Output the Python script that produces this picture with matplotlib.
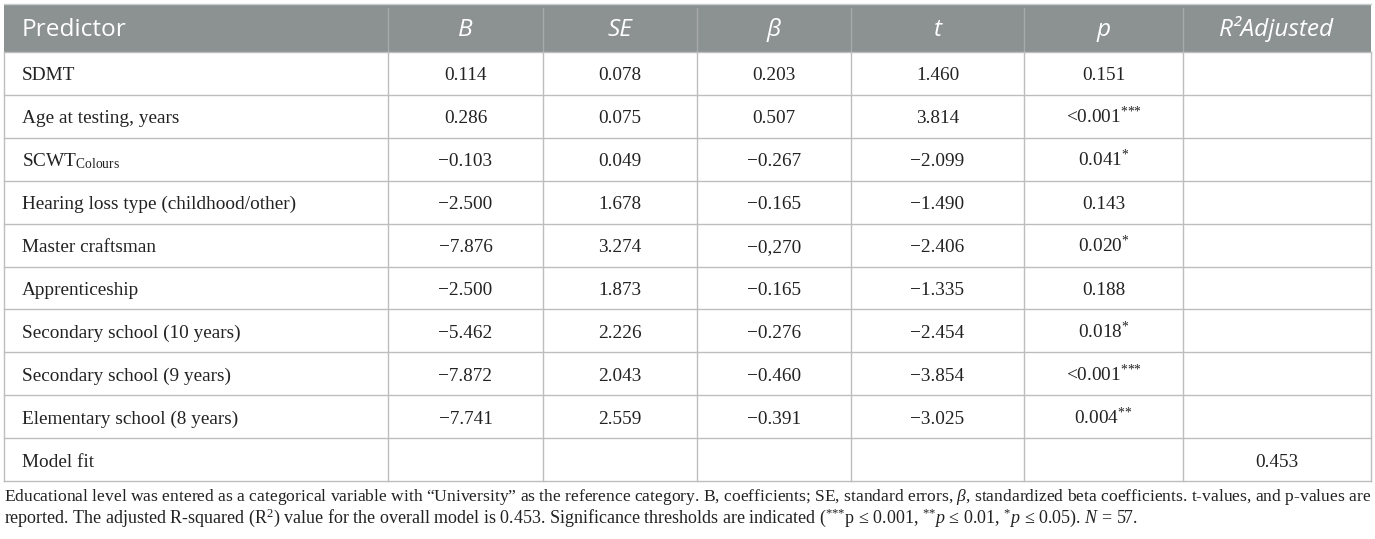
import matplotlib
matplotlib.use("Agg")
import matplotlib.pyplot as plt
from matplotlib.patches import Rectangle

plt.rcParams['mathtext.fontset'] = 'custom'
plt.rcParams['mathtext.rm'] = 'Liberation Serif'
plt.rcParams['mathtext.it'] = 'Liberation Serif:italic'
plt.rcParams['mathtext.bf'] = 'Liberation Serif:bold'

# table content
headers = ['Predictor', 'B', 'SE', 'β', 't', 'p', 'R²Adjusted']
predictors = ['SDMT', 'Age at testing, years', r'SCWT$_{\mathrm{Colours}}$',
              'Hearing loss type (childhood/other)', 'Master craftsman',
              'Apprenticeship', 'Secondary school (10 years)',
              'Secondary school (9 years)', 'Elementary school (8 years)',
              'Model fit']
B = ['0.114', '0.286', '−0.103', '−2.500', '−7.876', '−2.500', '−5.462', '−7.872', '−7.741', '']
SE = ['0.078', '0.075', '0.049', '1.678', '3.274', '1.873', '2.226', '2.043', '2.559', '']
beta = ['0.203', '0.507', '−0.267', '−0.165', '−0,270', '−0.165', '−0.276', '−0.460', '−0.391', '']
t = ['1.460', '3.814', '−2.099', '−1.490', '−2.406', '−1.335', '−2.454', '−3.854', '−3.025', '']
p = ['0.151', '<0.001***', '0.041*', '0.143', '0.020*', '0.188', '0.018*', '<0.001***', '0.004**', '']
r2_adj = ['', '', '', '', '', '', '', '', '', '0.453']

note1 = ('Educational level was entered as a categorical variable with “University” as the reference '
         r'category. B, coefficients; SE, standard errors, $\beta$, standardized beta coefficients. '
         't-values, and p-values are')
note2 = (r'reported. The adjusted R-squared (R$^{2}$) value for the overall model is 0.453. '
         r'Significance thresholds are indicated ($^{{*}{*}{*}}$p ≤ 0.001, $^{{*}{*}}p$ ≤ 0.01, '
         r'$^{{*}}p$ ≤ 0.05). $N$ = 57.')

# layout (pixels)
col_edges = [4, 388, 543, 697, 851, 1024, 1183, 1371]
head_top, head_bot = 4, 52
table_bot = 481
nrows = len(predictors)
row_h = (table_bot - head_bot) / nrows

header_col = '#8c9192'
line_col = '#bdbdbd'
text_col = '#222222'
serif = ['Liberation Serif', 'DejaVu Serif']


def stars(s):
    # trailing asterisks as superscript, each braced to avoid operator spacing
    body = s.rstrip('*')
    n = len(s) - len(body)
    if n:
        return body + '$^{' + '{*}' * n + '}$'
    return body


fig = plt.figure(figsize=(13.75, 5.39), dpi=100)
ax = fig.add_axes([0, 0, 1, 1])
ax.set_xlim(0, 1375)
ax.set_ylim(539, 0)
ax.axis('off')

# header band
ax.add_patch(Rectangle((col_edges[0], head_top), col_edges[-1] - col_edges[0],
                       head_bot - head_top, facecolor=header_col, edgecolor='none'))
ax.plot([col_edges[0], col_edges[-1]], [head_top, head_top], color='#c9cccc', lw=1.0)
for x in col_edges[1:-1]:
    ax.plot([x, x], [head_top + 4, head_bot], color='#a6aaab', lw=1.0)

for j, h in enumerate(headers):
    if j == 0:
        ax.text(col_edges[0] + 18, 36, h, color='white', fontsize=17.6,
                family='Open Sans', va='baseline', ha='left')
    else:
        ax.text((col_edges[j] + col_edges[j + 1]) / 2, 36, h, color='white',
                fontsize=17.6, family='Open Sans', style='italic',
                va='baseline', ha='center')

# body grid
for i in range(nrows + 1):
    y = head_bot + i * row_h
    ax.plot([col_edges[0], col_edges[-1]], [y, y], color=line_col, lw=1.0)
for x in col_edges:
    ax.plot([x, x], [head_bot, table_bot], color=line_col, lw=1.0)

columns = [B, SE, beta, t, p, r2_adj]
for i in range(nrows):
    yb = head_bot + (i + 0.5) * row_h + 7
    ax.text(col_edges[0] + 18, yb, predictors[i], fontsize=13.9, family=serif,
            color=text_col, va='baseline', ha='left')
    for j, col in enumerate(columns):
        if col[i]:
            ax.text((col_edges[j + 1] + col_edges[j + 2]) / 2, yb, stars(col[i]),
                    fontsize=13.9, family=serif, color=text_col,
                    va='baseline', ha='center')

# footnote
ax.text(4, 501, note1, fontsize=12.6, family=serif, color=text_col, va='baseline', ha='left')
ax.text(4, 523, note2, fontsize=13, family=serif, color=text_col, va='baseline', ha='left')

fig.savefig('out.png', dpi=100)
